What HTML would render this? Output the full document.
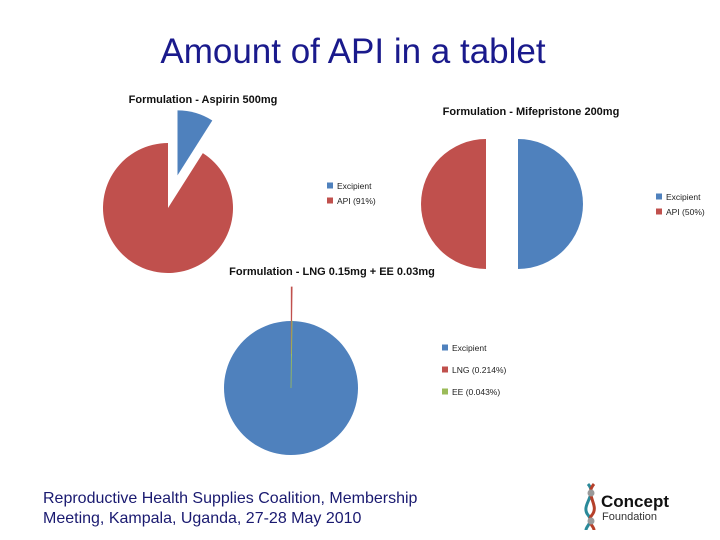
<!DOCTYPE html>
<html><head><meta charset="utf-8">
<style>
body{margin:0;width:720px;height:540px;background:#fff;overflow:hidden;font-family:"Liberation Sans",sans-serif;}
#title{position:absolute;left:0;width:706px;top:32px;text-align:center;font-size:35px;color:#1a1a8c;}
.foot{position:absolute;left:43px;font-size:16px;color:#1a1a70;}
svg{position:absolute;left:0;top:0;}
</style></head><body>
<div id="title">Amount of API in a tablet</div>
<div class="foot" style="top:490px">Reproductive Health Supplies Coalition, Membership</div>
<div class="foot" style="top:510px">Meeting, Kampala, Uganda, 27-28 May 2010</div>
<svg id="chart" width="720" height="540">
  <g>
    <path d="M588,484 C598,495 580,505 588,515 C594,522 586,526 586,530" stroke="#2a8a9a" stroke-width="3" fill="none"/>
    <path d="M594,484 C584,495 600,505 592,515 C586,522 594,526 594,530" stroke="#b5402a" stroke-width="3" fill="none"/>
    <circle cx="591" cy="493" r="3.5" fill="#999"/>
    <circle cx="591" cy="521" r="3.5" fill="#999"/>
    <text x="601" y="507" font-size="17" font-weight="bold" fill="#111" font-family="Liberation Sans,sans-serif">Concept</text>
    <text x="602" y="520" font-size="11" fill="#333" font-family="Liberation Sans,sans-serif">Foundation</text>
  </g>
</svg>
<script>
const aspirinLabels=["Excipient","API (91%)"];
const aspirinValues=[9,91];
const mifeLabels=["Excipient","API (50%)"];
const mifeValues=[50,50];
const lngLabels=["Excipient","LNG (0.214%)","EE (0.043%)"];
const lngValues=[99.743,0.214,0.043];
const NS="http://www.w3.org/2000/svg";
const svg=document.getElementById('chart');
function mk(tag,attrs,parent){const e=document.createElementNS(NS,tag);for(const k in attrs)e.setAttribute(k,attrs[k]);(parent||svg).appendChild(e);return e;}
function drawPie(cfg){
  const g=mk('g',{});
  
  
  const tot=cfg.values.reduce((a,b)=>a+b,0);
  let a0=cfg.start;
  cfg.values.forEach((v,i)=>{
    const sweep=v/tot*2*Math.PI;
    const a1=a0+sweep, mid=a0+sweep/2;
    const ex=cfg.explode[i]||0;
    const cx=cfg.cx+ex*Math.sin(mid), cy=cfg.cy-ex*Math.cos(mid);
    const x0=cx+cfg.r*Math.sin(a0), y0=cy-cfg.r*Math.cos(a0);
    const x1=cx+cfg.r*Math.sin(a1), y1=cy-cfg.r*Math.cos(a1);
    let el;
    if(sweep>=2*Math.PI-1e-9){el=mk('circle',{cx:cx,cy:cy,r:cfg.r,fill:cfg.colors[i]},g);}
    else{
      const d=`M${cx},${cy}L${x0},${y0}A${cfg.r},${cfg.r} 0 ${sweep>Math.PI?1:0} 1 ${x1},${y1}Z`;
      el=mk('path',{d:d,fill:cfg.colors[i],stroke:cfg.colors[i],'stroke-width':sweep<0.05?0.8:0},g);
    }
    
    
    a0=a1;
  });
  const t=mk('text',{x:cfg.tx,y:cfg.ty,'font-size':11,'font-weight':'bold','text-anchor':'middle',fill:'#111','font-family':'Liberation Sans,sans-serif'},g);
  t.textContent=cfg.title;
  
  
  cfg.labels.forEach((l,i)=>{
    const y=cfg.ly+i*cfg.lstep;
    const s=mk('rect',{x:cfg.lx,y:y-3.5,width:6,height:6,fill:cfg.colors[i]},g);
    
    
    const lt=mk('text',{x:cfg.lx+10,y:y+3,'font-size':8.5,fill:'#222','font-family':'Liberation Sans,sans-serif'},g);
    lt.textContent=l;
    
    
  });
}
const BLUE='#4f81bd',RED='#c0504d',GREEN='#9bbb59';
drawPie({name:'aspirin-pie',values:aspirinValues,labels:aspirinLabels,colors:[BLUE,RED],cx:168,cy:208,r:65,start:0,explode:[34,0],title:'Formulation - Aspirin 500mg',tx:203,ty:103,lx:327,ly:186,lstep:15});
drawPie({name:'mifepristone-pie',values:mifeValues,labels:mifeLabels,colors:[BLUE,RED],cx:502,cy:204,r:65,start:0,explode:[16,16],title:'Formulation - Mifepristone 200mg',tx:531,ty:115,lx:656,ly:197,lstep:15});
drawPie({name:'lng-ee-pie',values:lngValues,labels:lngLabels,colors:[BLUE,RED,GREEN],cx:291,cy:388,r:67,start:-lngValues[0]/100*2*Math.PI+2*Math.PI,explode:[0,34,0],title:'Formulation - LNG 0.15mg + EE 0.03mg',tx:332,ty:275,lx:442,ly:348,lstep:22});
</script>
</body></html>
